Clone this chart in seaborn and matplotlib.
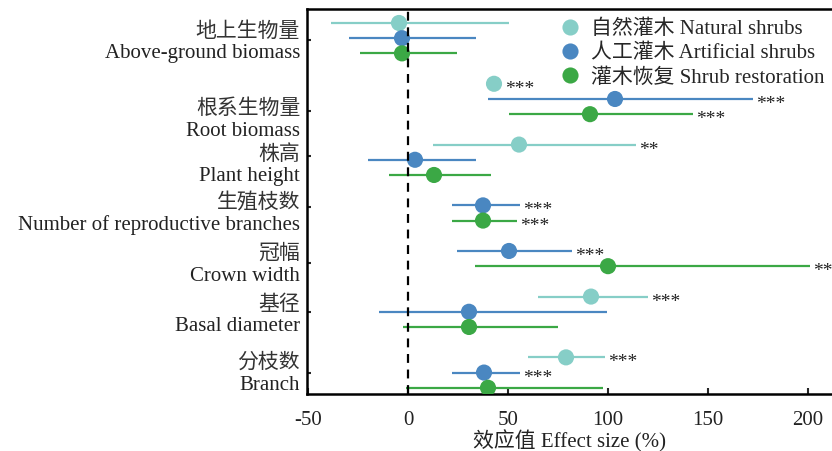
import numpy as np
import pandas as pd
import matplotlib
matplotlib.use("Agg")
import matplotlib.pyplot as plt
import seaborn as sns

# 数据 (effect size %, 95% CI)
traits_cn = ["地上生物量", "根系生物量", "株高", "生殖枝数", "冠幅", "基径", "分枝数"]
traits_en = ["Above-ground biomass", "Root biomass", "Plant height",
             "Number of reproductive branches", "Crown width", "Basal diameter", "Branch"]
groups = ["自然灌木 Natural shrubs", "人工灌木 Artificial shrubs", "灌木恢复 Shrub restoration"]

natural_mean = [-4.5, 43, 55.5, np.nan, np.nan, 91.5, 79]
natural_low = [-38.5, 43, 12.5, np.nan, np.nan, 65, 60]
natural_high = [50.5, 43, 114, np.nan, np.nan, 120, 98.5]
natural_sig = ["", "***", "**", "", "", "***", "***"]

artificial_mean = [-3, 103.5, 3.5, 37.5, 50.5, 30.5, 38]
artificial_low = [-29.5, 40, -20, 22, 24.5, -14.5, 22]
artificial_high = [34, 172.5, 34, 56, 82, 99.5, 56]
artificial_sig = ["", "***", "", "***", "***", "", "***"]

restoration_mean = [-3, 91, 13, 37.5, 100, 30.5, 40]
restoration_low = [-24, 50.5, -9.5, 22, 33.5, -2.5, -1]
restoration_high = [24.5, 142.5, 41.5, 54.5, 201, 75, 97.5]
restoration_sig = ["", "***", "", "***", "***", "", ""]

colors = ["#86CEC7", "#4A87C1", "#3BA845"]

# disposición de filas (no son datos)
group_start = [0, 4, 8, 11, 14, 18, 22]
tick_rows = [1.12, 5.79, 8.75, 12.1, 15.79, 19.01, 23.03]
cn_rows = [0.59, 5.66, 8.68, 11.84, 15.2, 18.55, 22.37]
en_rows = [2.04, 7.17, 10.07, 13.29, 16.71, 20.0, 23.82]

series = [
    (natural_mean, natural_low, natural_high, natural_sig),
    (artificial_mean, artificial_low, artificial_high, artificial_sig),
    (restoration_mean, restoration_low, restoration_high, restoration_sig),
]

rows = []
for g, (m, lo, hi, sig) in enumerate(series):
    for i in range(len(traits_cn)):
        rows.append({"group": groups[g], "row": group_start[i] + g, "mean": m[i],
                     "low": lo[i], "high": hi[i], "sig": sig[i]})
df = pd.DataFrame(rows).dropna(subset=["mean"])

sns.set_theme(style="white")
FONT = ["Liberation Serif", "Noto Sans CJK SC"]
plt.rcParams["font.family"] = FONT
plt.rcParams["axes.unicode_minus"] = False

fig = plt.figure(figsize=(8.32, 4.51), dpi=100)
ax = fig.add_axes([307 / 832, 57 / 451, 525 / 832, 385 / 451])

pal = dict(zip(groups, colors))
for _, r in df.iterrows():
    ax.hlines(r["row"], r["low"], r["high"], color=pal[r["group"]], lw=1.6, zorder=2)

sns.scatterplot(data=df, x="mean", y="row", hue="group", palette=pal, hue_order=groups,
                s=135, edgecolor="none", ax=ax, zorder=3)

ax.axvline(0, color="black", ls=(0, (4, 3)), lw=1.6, zorder=4)

# significancia
for _, r in df.iterrows():
    if r["sig"]:
        xend = max(r["high"], r["mean"])
        off = 2 if r["high"] - r["mean"] > 3 else 8
        ax.annotate(r["sig"], (xend, r["row"]), xytext=(off, -4), textcoords="offset points",
                    ha="left", va="center", fontsize=14, color="#222222", family=FONT)

ax.set_xlim(-50.5, 212)
ax.set_ylim(24.41, -0.92)
ax.set_xticks([-50, 0, 50, 100, 150, 200])
ax.set_yticks(tick_rows)
ax.set_yticklabels([])
ax.tick_params(axis="x", direction="in", length=4, width=1.5, labelsize=15, pad=12,
               labelcolor="#222222")
ax.tick_params(axis="y", direction="in", length=3, width=1.5, left=True)
ax.tick_params(axis="x", bottom=True)
for lab in ax.get_xticklabels():
    lab.set_family(FONT)

for s in ["left", "bottom", "top"]:
    ax.spines[s].set_color("black")
    ax.spines[s].set_linewidth(1.8)
ax.spines["right"].set_visible(False)

ytr = ax.get_yaxis_transform()
for cn, en, yc, ye in zip(traits_cn, traits_en, cn_rows, en_rows):
    ax.text(-0.013, yc, cn, transform=ytr, ha="right", va="center", fontsize=15,
            color="#333333", family=FONT)
    ax.text(-0.013, ye, en, transform=ytr, ha="right", va="center", fontsize=15,
            color="#222222", family=FONT)

ax.set_xlabel("效应值 Effect size (%)", fontsize=15, labelpad=0, family=FONT, color="#222222")
ax.set_ylabel("")

handles, labels = ax.get_legend_handles_labels()
ax.legend(handles, labels, loc="upper right", bbox_to_anchor=(1.01, 1.005), frameon=False,
          handletextpad=-0.1, handlelength=2.2, labelspacing=0.22, borderaxespad=0.2,
          markerscale=1.0, prop={"family": FONT, "size": 15})

fig.savefig("out.png", dpi=100)
